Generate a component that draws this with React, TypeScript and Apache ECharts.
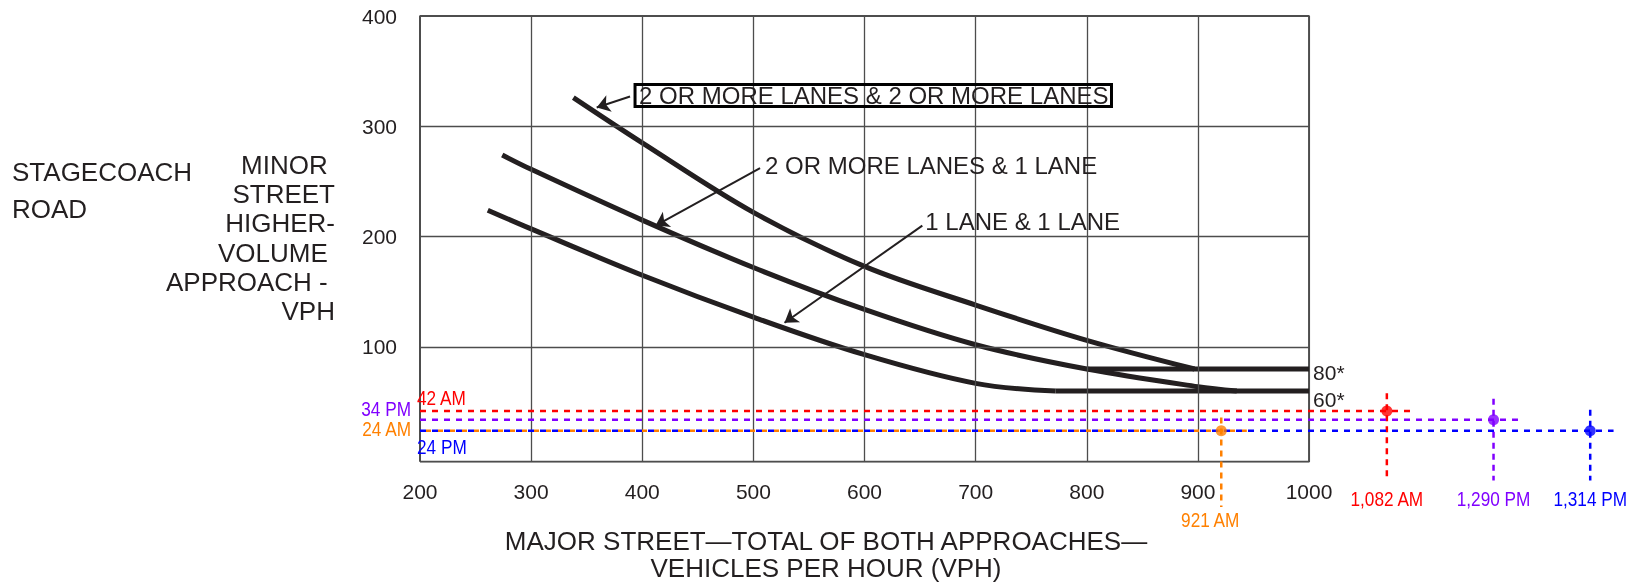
import React, { useEffect, useRef } from 'react';
import * as echarts from 'echarts';

// ---------- axis ticks ----------
const xTicks = [200, 300, 400, 500, 600, 700, 800, 900, 1000];
const yTicks = [100, 200, 300, 400];

// ---------- threshold curves (major VPH, minor VPH) ----------
const curveTwoTwo = [[338, 326], [400, 285], [500, 222], [600, 173], [700, 138], [800, 106], [897, 80]];
const curveTwoOne = [[274, 274], [300, 261], [400, 215], [500, 172], [600, 134], [700, 102], [800, 80], [900, 64], [935, 60]];
const curveOneOne = [[261, 224], [300, 207], [400, 165], [500, 127], [600, 93], [700, 67], [772, 60]];
const flatUpper = [[800, 80], [1000, 80]];
const flatLower = [[772, 60], [1000, 60]];
const flatLabels = ['80*', '60*'];

const curveNames = ['2 OR MORE LANES & 2 OR MORE LANES', '2 OR MORE LANES & 1 LANE', '1 LANE & 1 LANE'];
// leader arrows (tail at label, head on curve), in chart units
const arrowTails = [[389, 327], [506, 262], [652, 210]];
const arrowHeads = [[359, 317], [412, 210], [528, 122]];

// ---------- observed peak-hour volumes ----------
const obsMajor = [1082, 1290, 1314, 921];
const obsMinor = [42, 34, 24, 24];
const obsPeriod = ['AM', 'PM', 'PM', 'AM'];
// schematic placement beyond the 1000 edge (the figure is not to scale there)
const obsPlotX = [1070, 1166, 1253, 921];
const obsLineEnd = [1094, 1188, 1274, 944];
const obsStemTop = [58, 53, 43, 36];
const obsStemBottom = [-21, -21, -21, -45];
const obsColors = ['#ff0000', '#8000ff', '#0000ff', '#ff8000'];

const FONT = '"Liberation Sans", Arial, Helvetica, sans-serif';
const INK = '#231f20';
const GRIDC = '#4d4d4d';
const X0 = 200, X1 = 1000, YB = -4, YT = 400;

export default function App() {
  const ref = useRef<HTMLDivElement>(null);
  useEffect(() => {
    const chart = echarts.init(ref.current!, null, { renderer: 'svg' });
    const series: any[] = [];

    series.push({
      type: 'line', name: 'frame', silent: true, z: 1,
      data: [[X0, YB], [X1, YB], [X1, YT], [X0, YT], [X0, YB]],
      showSymbol: false, symbol: 'none',
      lineStyle: { color: GRIDC, width: 2 },
      markLine: {
        silent: true, symbol: 'none', label: { show: false },
        lineStyle: { color: GRIDC, width: 1.3, type: 'solid' },
        data: [
          ...xTicks.filter(v => v > X0 && v < X1).map(v => [{ coord: [v, YB] }, { coord: [v, YT] }]),
          ...yTicks.filter(v => v < YT).map(v => [{ coord: [X0, v] }, { coord: [X1, v] }]),
        ],
      },
    });

    [curveTwoTwo, curveTwoOne, curveOneOne].forEach((d, i) => {
      series.push({
        type: 'line', name: curveNames[i], data: d, smooth: 0.35,
        showSymbol: false, symbol: 'none', z: 3,
        lineStyle: { color: INK, width: 5 },
        markLine: {
          silent: true, symbol: ['none', 'arrow'], symbolSize: 13, label: { show: false },
          lineStyle: { color: INK, width: 2, type: 'solid' },
          data: [[{ coord: arrowTails[i] }, { coord: arrowHeads[i] }]],
        },
      });
    });

    [flatUpper, flatLower].forEach((d, i) => {
      series.push({
        type: 'line', name: flatLabels[i], data: d, showSymbol: false, symbol: 'none', z: 3,
        lineStyle: { color: INK, width: 5 },
        endLabel: {
          show: true, formatter: () => flatLabels[i], color: INK, fontSize: 21, fontFamily: FONT,
          distance: 4, offset: [0, i === 0 ? 3 : 8],
        },
      });
    });

    obsMajor.forEach((_, i) => {
      const c = obsColors[i];
      const isOrange = i === 3;
      series.push({
        type: 'line', data: [[X0, obsMinor[i]], [obsLineEnd[i], obsMinor[i]]],
        showSymbol: false, symbol: 'none', z: 5 + i, clip: false,
        lineStyle: { color: c, width: 2.5, type: isOrange ? [5, 7] : [6, 6], dashOffset: isOrange ? 6 : 0 },
      });
      series.push({
        type: 'line', data: [[obsPlotX[i], obsStemTop[i]], [obsPlotX[i], obsStemBottom[i]]],
        showSymbol: false, symbol: 'none', z: 5 + i, clip: false,
        lineStyle: { color: c, width: 2.5, type: [6, 5] },
      });
      series.push({
        type: 'scatter', data: [[obsPlotX[i], obsMinor[i]]], symbolSize: 11, z: 10, clip: false,
        itemStyle: { color: c },
      });
    });

    chart.setOption({
      animation: false,
      grid: { left: 420, top: 16, width: 1208, height: 445.7, containLabel: false, outerBoundsMode: 'none' },
      xAxis: {
        type: 'value', min: 200, max: 1287, interval: 100,
        axisLine: { show: false }, axisTick: { show: false }, splitLine: { show: false },
        axisLabel: {
          formatter: (v: number) => (v <= 1000 ? String(v) : ''),
          fontSize: 21, color: INK, fontFamily: FONT, margin: 19, showMaxLabel: false,
        },
      },
      yAxis: {
        type: 'value', min: YB, max: YT,
        axisLine: { show: false }, axisTick: { show: false }, splitLine: { show: false },
        axisLabel: { customValues: yTicks, fontSize: 21, color: INK, fontFamily: FONT, margin: 23 },
      },
      series,
    });

    const px = (p: number[]) => chart.convertToPixel({ gridIndex: 0 }, p) as number[];
    const graphic: any[] = [];
    graphic.push({
      type: 'text', x: 12, y: 154,
      style: { text: 'STAGECOACH\nROAD', font: `26px ${FONT}`, fill: INK, lineHeight: 36.5, verticalAlign: 'top' },
    });
    graphic.push({
      type: 'text', x: 335, y: 150,
      style: {
        text: 'MINOR\u00a0\nSTREET\nHIGHER-\nVOLUME\u00a0\nAPPROACH -\u00a0\nVPH',
        font: `26px ${FONT}`, fill: INK, lineHeight: 29.3, align: 'right', verticalAlign: 'top',
      },
    });
    graphic.push({
      type: 'text', x: 826, y: 527,
      style: {
        text: 'MAJOR STREET\u2014TOTAL OF BOTH APPROACHES\u2014\nVEHICLES PER HOUR (VPH)',
        font: `26px ${FONT}`, fill: INK, lineHeight: 27.5, align: 'center', verticalAlign: 'top',
      },
    });

    // curve labels
    const labOff = [[5, -1], [5, -3], [3, -4]];
    curveNames.forEach((name, i) => {
      const p = px(arrowTails[i]);
      const boxed = i === 0;
      graphic.push({
        type: 'text', x: p[0] + labOff[i][0], y: p[1] + labOff[i][1], z: 20,
        style: {
          text: name, font: `24px ${FONT}`, fill: INK, verticalAlign: 'middle', align: 'left',
          ...(boxed ? { borderColor: '#000', borderWidth: 3, padding: [1, 3, 0, 4], lineHeight: 21 } : {}),
        },
      });
    });

    // observation labels (condensed)
    const leftPx = px([X0, 0])[0];
    const minorLab = [
      { dx: -3, dy: -13, align: 'left' },
      { dx: -9, dy: -11, align: 'right' },
      { dx: -3, dy: 16, align: 'left' },
      { dx: -9, dy: -2, align: 'right' },
    ];
    const majorDy = [18, 18, 18, 12.5];
    const majorDx = [0, 0, 0, -11];
    obsMajor.forEach((m, i) => {
      const ly = px([X0, obsMinor[i]])[1];
      graphic.push({
        type: 'text', x: leftPx + minorLab[i].dx, y: ly + minorLab[i].dy, scaleX: 0.82, z: 20,
        style: {
          text: `${obsMinor[i]} ${obsPeriod[i]}`, font: `21px ${FONT}`, fill: obsColors[i],
          align: minorLab[i].align, verticalAlign: 'middle',
        },
      });
      const b = px([obsPlotX[i], obsStemBottom[i]]);
      graphic.push({
        type: 'text', x: b[0] + majorDx[i], y: b[1] + majorDy[i], scaleX: 0.82, z: 20,
        style: {
          text: `${m.toLocaleString('en-US')} ${obsPeriod[i]}`, font: `21px ${FONT}`, fill: obsColors[i],
          align: 'center', verticalAlign: 'middle',
        },
      });
    });

    chart.setOption({ graphic });
    return () => chart.dispose();
  }, []);
  return <div ref={ref} style={{ position: 'fixed', left: 0, top: 0, width: 1628, height: 587 }} />;
}
